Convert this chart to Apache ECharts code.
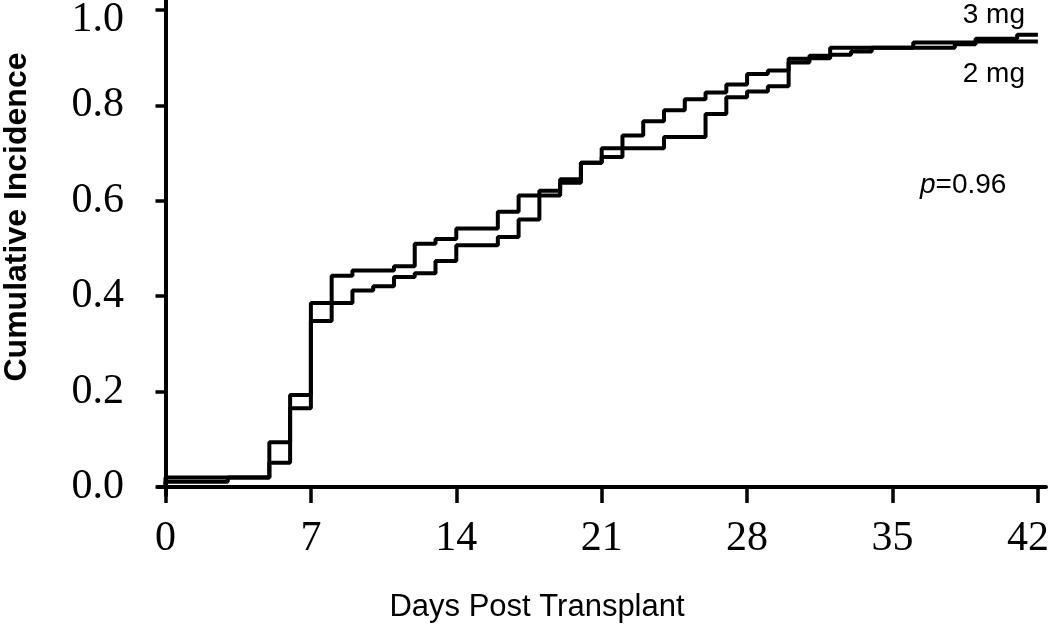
<!DOCTYPE html>
<html>
<head>
<meta charset="utf-8">
<title>Cumulative Incidence</title>
<script src="https://cdn.jsdelivr.net/npm/echarts@6/dist/echarts.min.js"></script>
<style>
  html, body { margin: 0; padding: 0; background: #fff; }
  #main { width: 1050px; height: 626px; }
</style>
</head>
<body>
<div id="main"></div>
<script>
// step days and cumulative incidence, 3 mg arm
var days3 = [0, 0, 5, 6, 7, 9, 10, 11, 12, 13, 14, 16, 17, 18, 19, 20, 21, 22, 23, 24, 25, 26, 27, 28, 29, 30, 31, 32, 36, 39, 41, 42];
var cum3 = [0, 0.02, 0.094, 0.193, 0.386, 0.412, 0.421, 0.44, 0.448, 0.474, 0.507, 0.524, 0.561, 0.621, 0.645, 0.68, 0.692, 0.737, 0.767, 0.79, 0.813, 0.827, 0.844, 0.866, 0.873, 0.898, 0.904, 0.921, 0.932, 0.94, 0.948, 0.948];

// 2 mg arm
var days2 = [0, 0, 3, 5, 6, 7, 8, 9, 11, 12, 13, 14, 16, 17, 19, 20, 21, 24, 26, 27, 28, 29, 30, 31, 32, 33, 34, 38, 39, 42];
var cum2 = [0, 0.011, 0.02, 0.051, 0.165, 0.348, 0.443, 0.454, 0.463, 0.51, 0.52, 0.542, 0.577, 0.611, 0.638, 0.68, 0.71, 0.734, 0.782, 0.817, 0.829, 0.84, 0.89, 0.899, 0.906, 0.913, 0.921, 0.928, 0.934, 0.934];

var xTicks = [0, 7, 14, 21, 28, 35, 42];
var yTicks = [0, 0.2, 0.4, 0.6, 0.8, 1.0];

function pairs(xs, ys) {
    var out = [];
    for (var i = 0; i < xs.length; i++) {
        out.push([xs[i], ys[i]]);
    }
    return out;
}

var myChart = echarts.init(document.getElementById('main'));

var tickFont = {
    fontFamily: 'Liberation Serif',
    fontSize: 42,
    color: '#000'
};

var option = {
    animation: false,
    backgroundColor: '#fff',
    grid: {
        left: 158,
        right: 4,
        top: 0,
        bottom: 131,
        outerBoundsMode: 'none'
    },
    xAxis: {
        type: 'value',
        min: -0.36,
        max: 42.39,
        splitLine: { show: false },
        axisLine: { lineStyle: { color: '#000', width: 4 } },
        axisTick: {
            customValues: xTicks,
            length: 16,
            lineStyle: { color: '#000', width: 3.5 }
        },
        axisLabel: Object.assign({
            customValues: xTicks,
            margin: 23,
            // last label is pulled in so it stays on the page
            formatter: function (v) {
                return v === 42 ? '{last|42}' : String(v);
            },
            rich: {
                last: { fontFamily: 'Liberation Serif', fontSize: 42, color: '#000', padding: [0, 20, 0, 0] }
            }
        }, tickFont)
    },
    yAxis: {
        type: 'value',
        min: -0.0168,
        max: 1.021,
        splitLine: { show: false },
        axisLine: { lineStyle: { color: '#000', width: 4 } },
        axisTick: {
            customValues: yTicks,
            length: 10,
            lineStyle: { color: '#000', width: 3.5 }
        },
        axisLabel: Object.assign({
            customValues: yTicks,
            margin: 34,
            formatter: function (v) {
                return v === 1 ? '{top|1.0}' : v.toFixed(1);
            },
            rich: {
                top: { fontFamily: 'Liberation Serif', fontSize: 42, color: '#000', padding: [20, 0, 0, 0] }
            }
        }, tickFont)
    },
    graphic: [
        {
            type: 'text',
            x: 17,
            y: 217,
            rotation: Math.PI / 2,
            style: {
                text: 'Cumulative Incidence',
                fontFamily: 'Liberation Sans',
                fontWeight: 'bold',
                fontSize: 32,
                fill: '#000',
                align: 'center',
                verticalAlign: 'middle'
            }
        },
        {
            type: 'text',
            x: 537,
            y: 607,
            style: {
                text: 'Days Post Transplant',
                fontFamily: 'Liberation Sans',
                fontSize: 31,
                fill: '#000',
                align: 'center',
                verticalAlign: 'middle'
            }
        },
        {
            type: 'text',
            x: 1025,
            y: 15,
            style: {
                text: '3 mg',
                fontFamily: 'Liberation Sans',
                fontSize: 28,
                fill: '#000',
                align: 'right',
                verticalAlign: 'middle'
            }
        },
        {
            type: 'text',
            x: 1025,
            y: 74,
            style: {
                text: '2 mg',
                fontFamily: 'Liberation Sans',
                fontSize: 28,
                fill: '#000',
                align: 'right',
                verticalAlign: 'middle'
            }
        },
        {
            type: 'text',
            x: 920,
            y: 185,
            style: {
                text: '{i|p}=0.96',
                fontFamily: 'Liberation Sans',
                fontSize: 28,
                fill: '#000',
                align: 'left',
                verticalAlign: 'middle',
                rich: {
                    i: { fontFamily: 'Liberation Sans', fontStyle: 'italic', fontSize: 28, fill: '#000' }
                }
            }
        }
    ],
    series: [
        {
            name: '3 mg',
            type: 'line',
            step: 'end',
            showSymbol: false,
            lineStyle: { color: '#000', width: 4 },
            data: pairs(days3, cum3)
        },
        {
            name: '2 mg',
            type: 'line',
            step: 'end',
            showSymbol: false,
            lineStyle: { color: '#000', width: 4 },
            data: pairs(days2, cum2)
        }
    ]
};

myChart.setOption(option);
</script>
</body>
</html>
